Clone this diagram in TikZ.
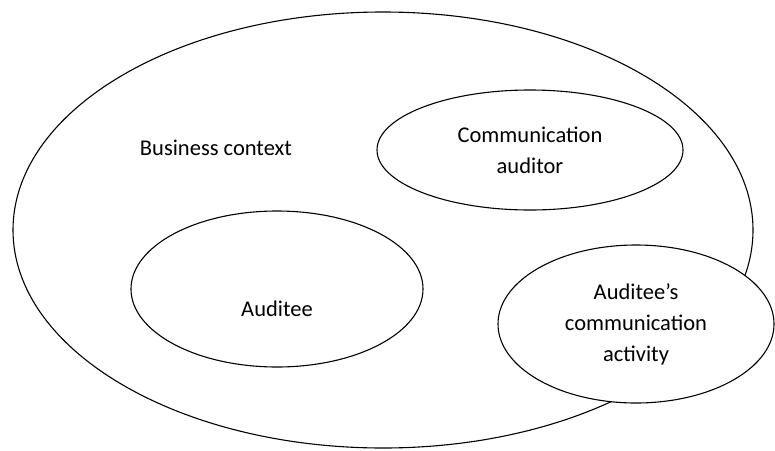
\documentclass[tikz,border=0pt]{standalone}
\usepackage{fontspec}
\setmainfont{Carlito}
\usetikzlibrary{shapes.geometric}

\tikzset{
  oval/.style={ellipse, draw=black, line width=1.1pt, fill=white, inner sep=0pt,
               align=center, font=\fontsize{22.5}{31}\selectfont},
  caption/.style={inner sep=0pt, align=center, font=\fontsize{22.5}{31}\selectfont}
}

\begin{document}
\begin{tikzpicture}[x=1pt, y=-1pt]
  \useasboundingbox (0,0) rectangle (775,450);

  % outer context
  \node[oval, minimum width=740pt, minimum height=436pt] (context) at (383,230) {};
  \node[caption] (contextlabel) at (216,148) {Business context};

  % inner parties
  \node[oval, minimum width=306pt, minimum height=120pt] (auditor) at (530,150)
    {Communication\\auditor};
  \node[oval, minimum width=292pt, minimum height=156pt] (auditee) at (277,289) {};
  \node[caption] (auditeelabel) at (277,309) {Auditee};

  % activity straddling the context boundary
  \node[oval, minimum width=276pt, minimum height=158pt] (activity) at (636,324)
    {Auditee’s\\communication\\activity};
\end{tikzpicture}
\end{document}
